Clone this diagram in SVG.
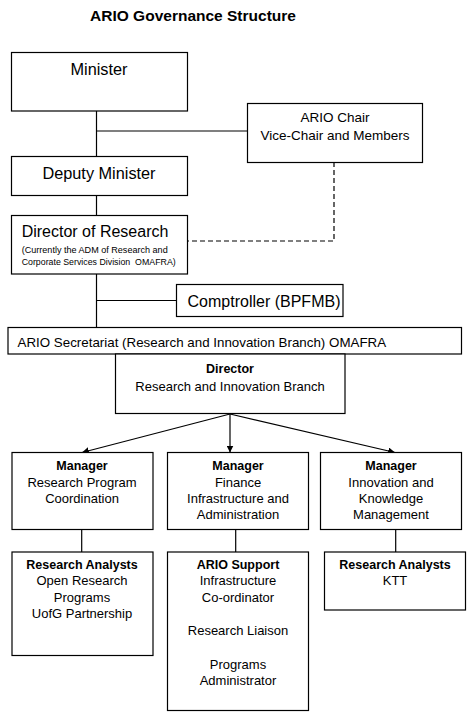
<svg xmlns="http://www.w3.org/2000/svg" width="473" height="719" viewBox="0 0 473 719">
<defs>
<style>
.box{fill:#fff;stroke:#000;stroke-width:1.2}
.ln{fill:none;stroke:#000;stroke-width:1.2}
.dash{fill:none;stroke:#000;stroke-width:1.2;stroke-dasharray:5,3}
text{font-family:"Liberation Sans",Arial,sans-serif;fill:#000}
.c{text-anchor:middle}
.b{font-weight:bold}
.t16{font-size:16.3px}
.t13{font-size:13px}
.t14{font-size:13.5px}
.tb{font-size:12.5px;font-weight:bold}
.sm{font-size:9px}
</style>
<marker id="ah" viewBox="0 0 10 10" refX="10" refY="5" markerWidth="7" markerHeight="7" markerUnits="userSpaceOnUse" orient="auto">
<path d="M0,0 L10,5 L0,10 z" fill="#000"/>
</marker>
</defs>
<rect width="473" height="719" fill="#fff"/>
<text x="193" y="21" class="c b" font-size="15.5px">ARIO Governance Structure</text>

<g id="connectors">
<line class="ln" x1="96.5" y1="111" x2="96.5" y2="156"/>
<line class="ln" x1="96.5" y1="131" x2="247" y2="131"/>
<line class="ln" x1="96.5" y1="196" x2="96.5" y2="215"/>
<polyline class="dash" points="334,162 334,241 188,241"/>
<line class="ln" x1="96.5" y1="274" x2="96.5" y2="327"/>
<line class="ln" x1="96.5" y1="300.5" x2="176" y2="300.5"/>
<line class="ln" x1="230" y1="414" x2="82" y2="452.5" marker-end="url(#ah)"/>
<line class="ln" x1="230" y1="414" x2="230" y2="452.5" marker-end="url(#ah)"/>
<line class="ln" x1="230" y1="414" x2="395" y2="452.5" marker-end="url(#ah)"/>
<line class="ln" x1="81.7" y1="529" x2="81.7" y2="552"/>
<line class="ln" x1="235.7" y1="529" x2="235.7" y2="552"/>
<line class="ln" x1="395.7" y1="529" x2="395.7" y2="552"/>
</g>

<g id="minister">
<rect class="box" x="11.5" y="52.5" width="176" height="58.5"/>
<text x="99" y="75" class="c t16">Minister</text>
</g>

<g id="ario-chair">
<rect class="box" x="247.5" y="103.5" width="175" height="59"/>
<text x="335" y="122" class="c t14">ARIO Chair</text>
<text x="335" y="140" class="c t14">Vice-Chair and Members</text>
</g>

<g id="deputy-minister">
<rect class="box" x="11.5" y="156.5" width="176" height="39"/>
<text x="99" y="179" class="c t16">Deputy Minister</text>
</g>

<g id="director-of-research">
<rect class="box" x="11.5" y="215.5" width="176" height="58.5"/>
<text x="95" y="237.3" class="c" font-size="16px">Director of Research</text>
<text x="21.7" y="252.5" class="sm" textLength="146" lengthAdjust="spacingAndGlyphs">(Currently the ADM of Research and</text>
<text x="21.7" y="264.5" class="sm" textLength="154" lengthAdjust="spacingAndGlyphs" xml:space="preserve">Corporate Services Division  OMAFRA)</text>
</g>

<g id="comptroller">
<rect class="box" x="176.5" y="284.5" width="166.5" height="32"/>
<text x="264" y="306.5" class="c" font-size="16px">Comptroller (BPFMB)</text>
</g>

<g id="secretariat">
<rect class="box" x="8" y="327.5" width="453.5" height="26.5"/>
<text x="17.5" y="347" font-size="13.35px">ARIO Secretariat (Research and Innovation Branch) OMAFRA</text>
</g>

<g id="director-rib">
<rect class="box" x="115.5" y="354" width="229.5" height="59.5"/>
<text x="230" y="373.3" class="c tb">Director</text>
<text x="230" y="391" class="c t13">Research and Innovation Branch</text>
</g>

<g id="manager-rpc">
<rect class="box" x="12" y="452.5" width="141" height="77"/>
<text x="82" y="470" class="c tb">Manager</text>
<text x="82" y="486.7" class="c t13">Research Program</text>
<text x="82" y="503" class="c t13">Coordination</text>
</g>

<g id="manager-fia">
<rect class="box" x="167.5" y="452.5" width="141" height="77"/>
<text x="238" y="470" class="c tb">Manager</text>
<text x="238" y="486.7" class="c t13">Finance</text>
<text x="238" y="503" class="c t13">Infrastructure and</text>
<text x="238" y="519.3" class="c t13">Administration</text>
</g>

<g id="manager-ikm">
<rect class="box" x="320.5" y="452.5" width="141" height="77"/>
<text x="391" y="470" class="c tb">Manager</text>
<text x="391" y="486.7" class="c t13">Innovation and</text>
<text x="391" y="503" class="c t13">Knowledge</text>
<text x="391" y="519.3" class="c t13">Management</text>
</g>

<g id="analysts-open">
<rect class="box" x="12" y="552" width="141" height="103.5"/>
<text x="82" y="569" class="c tb">Research Analysts</text>
<text x="82" y="585.3" class="c t13">Open Research</text>
<text x="82" y="601.6" class="c t13">Programs</text>
<text x="82" y="618" class="c t13">UofG Partnership</text>
</g>

<g id="ario-support">
<rect class="box" x="167.5" y="552" width="141" height="158.5"/>
<text x="238" y="569" class="c tb">ARIO Support</text>
<text x="238" y="585.3" class="c t13">Infrastructure</text>
<text x="238" y="601.6" class="c t13">Co-ordinator</text>
<text x="238" y="634.5" class="c t13">Research Liaison</text>
<text x="238" y="668.5" class="c t13">Programs</text>
<text x="238" y="685" class="c t13">Administrator</text>
</g>

<g id="analysts-ktt">
<rect class="box" x="324.5" y="552" width="141" height="58"/>
<text x="395" y="569" class="c tb">Research Analysts</text>
<text x="395" y="585.3" class="c t13">KTT</text>
</g>
</svg>
